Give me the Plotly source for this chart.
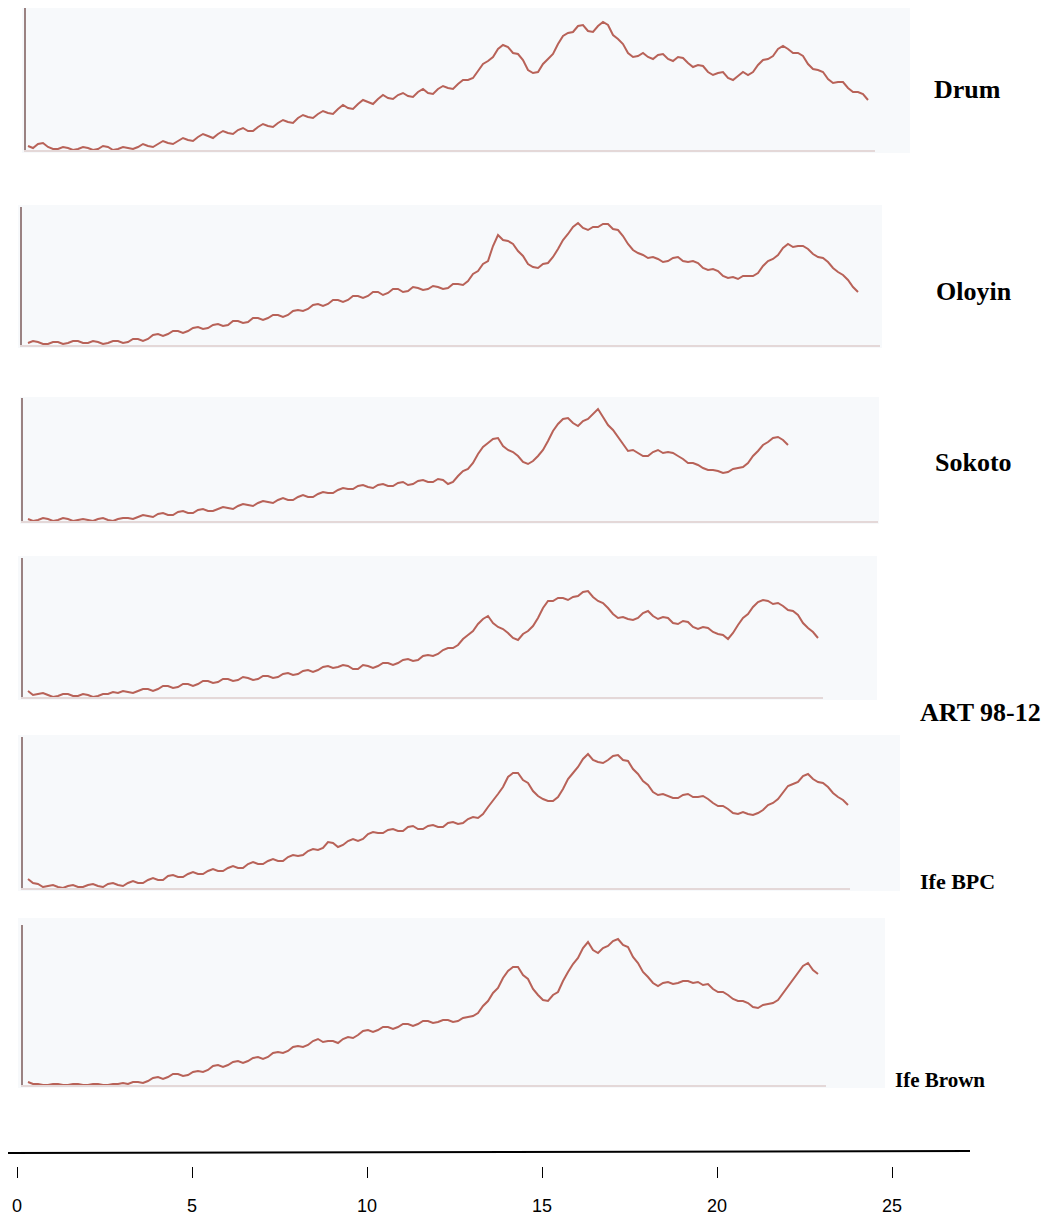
import plotly.graph_objects as go

# ---------------- data ----------------
# diffraction angle 2-theta (deg), common sampling grid for all patterns
two_theta = [
    3.100, 3.225, 3.350, 3.475, 3.600, 3.725, 3.850, 3.975,
    4.100, 4.225, 4.350, 4.475, 4.600, 4.725, 4.850, 4.975,
    5.100, 5.225, 5.350, 5.475, 5.600, 5.725, 5.850, 5.975,
    6.100, 6.225, 6.350, 6.475, 6.600, 6.725, 6.850, 6.975,
    7.100, 7.225, 7.350, 7.475, 7.600, 7.725, 7.850, 7.975,
    8.100, 8.225, 8.350, 8.475, 8.600, 8.725, 8.850, 8.975,
    9.100, 9.225, 9.350, 9.475, 9.600, 9.725, 9.850, 9.975,
    10.100, 10.225, 10.350, 10.475, 10.600, 10.725, 10.850, 10.975,
    11.100, 11.225, 11.350, 11.475, 11.600, 11.725, 11.850, 11.975,
    12.100, 12.225, 12.350, 12.475, 12.600, 12.725, 12.850, 12.975,
    13.100, 13.225, 13.350, 13.475, 13.600, 13.725, 13.850, 13.975,
    14.100, 14.225, 14.350, 14.475, 14.600, 14.725, 14.850, 14.975,
    15.100, 15.225, 15.350, 15.475, 15.600, 15.725, 15.850, 15.975,
    16.100, 16.225, 16.350, 16.475, 16.600, 16.725, 16.850, 16.975,
    17.100, 17.225, 17.350, 17.475, 17.600, 17.725, 17.850, 17.975,
    18.100, 18.225, 18.350, 18.475, 18.600, 18.725, 18.850, 18.975,
    19.100, 19.225, 19.350, 19.475, 19.600, 19.725, 19.850, 19.975,
    20.100, 20.225, 20.350, 20.475, 20.600, 20.725, 20.850, 20.975,
    21.100, 21.225, 21.350, 21.475, 21.600, 21.725, 21.850, 21.975,
    22.100, 22.225, 22.350, 22.475, 22.600, 22.725, 22.850, 22.975,
    23.100, 23.225, 23.350, 23.475, 23.600, 23.725, 23.850, 23.975,
    24.100]

samples = ["Drum", "Oloyin", "Sokoto", "ART 98-12", "Ife BPC", "Ife Brown"]

drum = [
    4, 2, 6, 7, 3, 1, 1, 3, 2, 0, 1, 3, 2, 0, 1, 4, 3, 0, 1, 3,
    2, 1, 3, 6, 4, 3, 6, 9, 7, 6, 9, 12, 10, 9, 13, 16, 14, 12, 16, 19,
    17, 16, 20, 22, 19, 19, 23, 26, 24, 23, 27, 30, 28, 27, 32, 35, 33, 32, 36, 39,
    37, 36, 41, 45, 42, 41, 46, 50, 48, 46, 51, 55, 52, 51, 55, 57, 54, 53, 58, 61,
    57, 56, 61, 64, 62, 61, 66, 70, 70, 72, 79, 86, 89, 93, 101, 105, 103, 97, 96, 90,
    80, 77, 78, 86, 91, 96, 106, 114, 117, 118, 124, 125, 119, 118, 124, 128, 125, 115, 111, 106,
    97, 93, 94, 97, 93, 91, 95, 96, 91, 89, 93, 92, 87, 83, 85, 84, 78, 75, 77, 78,
    72, 70, 74, 78, 75, 78, 85, 90, 91, 94, 101, 104, 101, 97, 97, 94, 86, 81, 80, 78,
    71, 67, 68, 68, 62, 58, 58, 56, 50]

oloyin = [
    2, 4, 3, 1, 1, 3, 3, 1, 2, 4, 4, 2, 2, 4, 3, 1, 2, 4, 4, 2,
    3, 6, 6, 4, 6, 10, 11, 9, 11, 14, 14, 12, 14, 17, 18, 16, 17, 20, 21, 19,
    20, 24, 24, 22, 23, 27, 27, 25, 27, 30, 30, 28, 30, 34, 35, 34, 36, 40, 41, 39,
    41, 45, 45, 43, 45, 49, 49, 47, 49, 53, 53, 50, 52, 56, 56, 53, 54, 58, 57, 55,
    56, 59, 58, 56, 57, 61, 61, 60, 64, 71, 74, 81, 84, 99, 110, 105, 104, 101, 94, 89,
    81, 78, 77, 81, 82, 88, 96, 105, 111, 118, 122, 117, 115, 118, 118, 121, 121, 116, 115, 109,
    101, 95, 92, 90, 87, 88, 86, 83, 84, 87, 88, 84, 83, 84, 82, 77, 75, 76, 74, 69,
    67, 68, 66, 69, 69, 69, 72, 79, 84, 86, 90, 97, 101, 98, 99, 99, 96, 91, 88, 87,
    83, 77, 73, 70, 65, 58, 53]

sokoto = [
    2, 0, 1, 3, 2, 0, 1, 3, 2, 0, 1, 2, 1, 0, 2, 3, 1, 0, 2, 3,
    3, 2, 4, 6, 5, 4, 7, 8, 6, 6, 9, 10, 8, 8, 11, 12, 10, 10, 12, 14,
    13, 12, 15, 17, 16, 15, 18, 20, 19, 18, 21, 23, 21, 21, 24, 26, 24, 24, 27, 29,
    28, 28, 31, 33, 32, 32, 35, 36, 34, 33, 36, 37, 35, 35, 38, 39, 36, 37, 40, 41,
    39, 39, 42, 41, 37, 39, 45, 50, 52, 58, 67, 74, 78, 82, 83, 75, 71, 69, 65, 59,
    57, 60, 65, 71, 80, 90, 97, 102, 103, 98, 95, 100, 102, 107, 112, 104, 96, 91, 84, 76,
    70, 71, 68, 65, 65, 69, 71, 68, 69, 68, 65, 62, 58, 58, 56, 53, 51, 51, 50, 48,
    49, 52, 53, 54, 58, 65, 70, 76, 79, 83, 84, 81, 76]

art_98_12 = [
    6, 2, 3, 4, 2, 0, 1, 3, 3, 1, 1, 3, 2, 0, 1, 3, 3, 5, 4, 6,
    5, 4, 6, 8, 8, 6, 8, 11, 11, 9, 10, 13, 13, 11, 13, 16, 16, 14, 15, 18,
    18, 16, 17, 20, 19, 17, 18, 21, 21, 19, 20, 23, 24, 22, 23, 26, 27, 25, 27, 30,
    31, 29, 30, 32, 31, 28, 28, 32, 31, 29, 31, 34, 34, 32, 34, 37, 38, 36, 37, 41,
    42, 41, 43, 47, 49, 49, 52, 58, 62, 66, 73, 78, 81, 74, 70, 68, 64, 59, 57, 63,
    66, 71, 79, 89, 96, 96, 99, 99, 97, 100, 101, 105, 106, 100, 96, 94, 89, 83, 79, 80,
    78, 77, 79, 84, 86, 81, 78, 80, 79, 74, 73, 76, 75, 70, 68, 70, 69, 65, 63, 62,
    58, 64, 72, 79, 83, 90, 95, 97, 96, 93, 94, 91, 87, 86, 82, 74, 69, 65, 59]

ife_bpc = [
    9, 5, 4, 1, 2, 3, 1, 0, 2, 3, 1, 1, 3, 4, 2, 1, 4, 5, 3, 2,
    5, 7, 5, 5, 8, 10, 8, 8, 12, 13, 11, 11, 14, 16, 14, 14, 17, 19, 17, 17,
    20, 22, 20, 20, 24, 26, 24, 24, 27, 29, 27, 27, 31, 33, 32, 33, 37, 39, 38, 40,
    46, 45, 41, 43, 47, 49, 47, 49, 54, 56, 55, 55, 58, 59, 57, 57, 61, 62, 59, 59,
    62, 63, 61, 61, 65, 66, 64, 65, 69, 71, 70, 74, 81, 87, 94, 101, 111, 115, 115, 108,
    105, 97, 92, 89, 87, 87, 91, 99, 109, 115, 121, 129, 134, 128, 126, 125, 128, 132, 133, 128,
    127, 119, 114, 107, 103, 96, 93, 94, 92, 90, 90, 93, 94, 91, 91, 92, 89, 85, 82, 82,
    79, 75, 74, 76, 74, 73, 75, 78, 83, 85, 89, 96, 102, 104, 106, 112, 114, 109, 106, 105,
    101, 95, 91, 88, 83]

ife_brown = [
    3, 1, 1, 0, 0, 1, 1, 0, 0, 1, 1, 0, 0, 1, 1, 0, 0, 1, 1, 2,
    1, 3, 3, 2, 4, 7, 8, 6, 8, 11, 11, 9, 10, 13, 14, 13, 15, 19, 20, 18,
    20, 23, 24, 22, 24, 27, 28, 26, 28, 32, 33, 32, 34, 38, 39, 38, 40, 44, 46, 43,
    44, 44, 42, 46, 48, 47, 50, 54, 55, 53, 55, 58, 58, 56, 58, 61, 61, 59, 61, 64,
    64, 62, 63, 65, 65, 63, 64, 67, 68, 69, 72, 79, 84, 92, 97, 107, 114, 118, 118, 110,
    106, 96, 90, 85, 84, 90, 93, 104, 113, 121, 127, 137, 143, 135, 132, 137, 139, 144, 146, 140,
    138, 128, 122, 113, 108, 102, 99, 102, 103, 101, 102, 104, 104, 102, 103, 100, 101, 96, 93, 93,
    90, 86, 84, 84, 82, 78, 77, 80, 81, 82, 85, 92, 98, 106, 112, 119, 122, 115, 111]

intensities = [drum, oloyin, sokoto, art_98_12, ife_bpc, ife_brown]

axis_values = [0, 5, 10, 15, 20, 25]
axis_labels = ["0", "5", "10", "15", "20", "25"]

# ---------------- layout geometry (pixels of the 1050x1218 reference page) ----------------
PAGE_OFF = 8                 # default body margin of the html page
W, H = 1050 - PAGE_OFF, 1218 - PAGE_OFF
PX_PER_DEG, DEG_OFFSET = 40.0, 2.4      # 2-theta = px / 40 + 2.4 for the scanned panels

# (left line, baseline end, top, baseline, bg-left, bg-right, bg-top, bg-bottom,
#  label x, label y, label size)
panels = [
    (26, 875, 8, 150, 22, 910, 5, 153, 967, 90, 26),
    (22, 880, 207, 345, 18, 882, 205, 348, 974, 291, 26),
    (23, 878, 398, 521, 20, 879, 397, 524, 973, 463, 26),
    (23, 823, 558, 697, 18, 877, 556, 700, 980, 713, 26),
    (23, 850, 737, 888, 18, 900, 735, 891, 957, 881, 22),
    (23, 826, 925, 1085, 18, 885, 918, 1088, 940, 1080, 21),
]


def clamp(v):
    return min(1.0, max(0.0, v))


def fx(px):
    return clamp((px - PAGE_OFF) / W)


def fy(py):
    return clamp(1 - (py - PAGE_OFF) / H)


CURVE = "rgb(184,98,88)"

fig = go.Figure()
shapes = []
annotations = []

for k, (name, vals, g) in enumerate(zip(samples, intensities, panels), start=1):
    vl, be, top, base, bl, br, bt, bb, lx, ly, ls = g
    xa = "x" if k == 1 else f"x{k}"
    ya = "y" if k == 1 else f"y{k}"
    fig.add_trace(go.Scatter(
        x=two_theta[:len(vals)], y=vals, mode="lines", name=name,
        line=dict(color=CURVE, width=2.0), xaxis=xa, yaxis=ya,
        hoverinfo="x+y+name",
    ))
    fig.layout[f"xaxis{k}"] = dict(
        domain=[fx(vl), fx(be)],
        range=[vl / PX_PER_DEG + DEG_OFFSET, be / PX_PER_DEG + DEG_OFFSET],
        anchor=ya, showline=True, linecolor="#e4d8d8", linewidth=2,
        showgrid=False, zeroline=False, showticklabels=False, ticks="",
        fixedrange=True,
    )
    fig.layout[f"yaxis{k}"] = dict(
        domain=[fy(base), fy(top)], range=[0, base - top],
        anchor=xa, showline=True, linecolor="#9a8282", linewidth=2,
        showgrid=False, zeroline=False, showticklabels=False, ticks="",
        fixedrange=True,
    )
    shapes.append(dict(type="rect", xref="paper", yref="paper",
                       x0=fx(bl), x1=fx(br), y0=fy(bb), y1=fy(bt),
                       fillcolor="#f7f9fb", line=dict(width=0), layer="below"))
    annotations.append(dict(xref="paper", yref="paper", x=fx(lx), y=fy(ly),
                            text=f"<b>{name}</b>", showarrow=False,
                            xanchor="center", yanchor="middle",
                            font=dict(family="Liberation Serif, Times New Roman, serif",
                                      size=ls, color="black")))

# bottom 2-theta scale (hand-drawn style axis)
fig.add_trace(go.Scatter(x=[], y=[], xaxis="x7", yaxis="y7", showlegend=False))
ax_px0, ax_scale = 17.0, 35.0          # reference pixel of value 0, pixels per unit
fig.layout["xaxis7"] = dict(
    domain=[0, 1],
    range=[(PAGE_OFF - ax_px0) / ax_scale, (1050 - ax_px0) / ax_scale],
    anchor="y7", tickmode="array", tickvals=axis_values, ticktext=axis_labels,
    ticks="outside", ticklen=11, tickwidth=1, tickcolor="black",
    showline=False, showgrid=False, zeroline=False,
    tickfont=dict(family="Liberation Sans Narrow, Liberation Sans, sans-serif",
                  size=18, color="black"),
    ticklabelstandoff=12, ticklabeloverflow="allow", fixedrange=True,
)
fig.layout["yaxis7"] = dict(domain=[fy(1166), fy(1160)], visible=False,
                            anchor="x7", fixedrange=True)
shapes.append(dict(type="line", xref="paper", yref="paper",
                   x0=fx(7), y0=fy(1153), x1=fx(970), y1=fy(1151),
                   line=dict(color="black", width=2)))

fig.update_layout(
    width=W, height=H, margin=dict(l=0, r=0, t=0, b=0),
    paper_bgcolor="white", plot_bgcolor="rgba(0,0,0,0)",
    showlegend=False, shapes=shapes, annotations=annotations,
)

fig.write_html("out.html")
